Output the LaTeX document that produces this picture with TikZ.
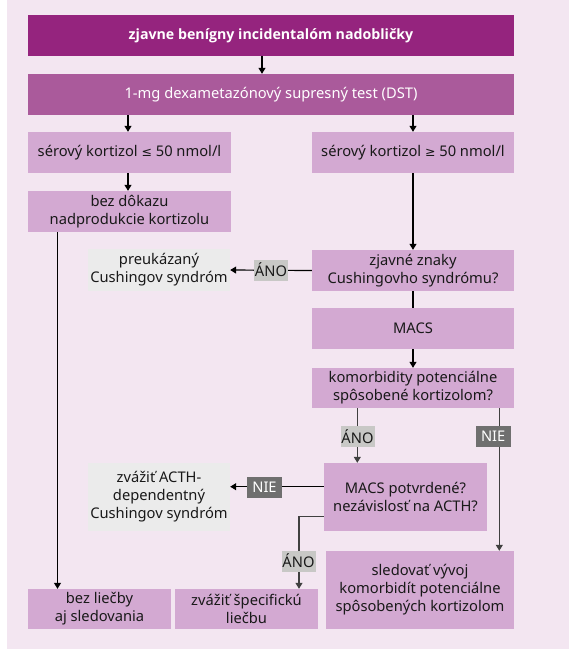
\documentclass[tikz,border=0pt]{standalone}
\usepackage{fontspec}
\setmainfont{Noto Sans}
\newfontfamily\boldfam{Open Sans}
\newfontfamily\symfont{DejaVu Sans}
\usetikzlibrary{arrows.meta}
\definecolor{bgpink}{HTML}{F3E6F1}
\definecolor{darkmag}{HTML}{95247E}
\definecolor{midmag}{HTML}{AA5A9B}
\definecolor{lightmag}{HTML}{D3A9D2}
\definecolor{grayfill}{HTML}{EBEBEB}
\definecolor{anofill}{HTML}{C8C8C6}
\definecolor{niefill}{HTML}{6F6F6F}
\definecolor{linegray}{HTML}{404040}
\tikzset{
  every node/.style={font=\fontsize{14.7}{18}\selectfont, inner sep=0pt, align=center},
  lbox/.style={fill=lightmag, text=black!90},
  gbox/.style={fill=grayfill, text=black!90},
  anolab/.style={fill=anofill, text=black!90, minimum width=34pt, minimum height=21pt},
  nielab/.style={fill=niefill, text=white, minimum width=35pt, minimum height=21pt},
  conn/.style={draw=black, line width=1.2pt},
  conng/.style={draw=linegray, line width=1.2pt},
  arr/.style={-{Triangle[length=6pt,width=7pt]}},
}
\begin{document}
\begin{tikzpicture}[x=1pt,y=-1pt]
\useasboundingbox (0,0) rectangle (569,649);
\fill[bgpink] (7,0) rectangle (569,649);
% boxes
\node[fill=darkmag, text=white, font=\boldfam\fontsize{14.2}{18}\selectfont\bfseries, minimum width=486pt, minimum height=41pt] (top) at (271,35.5) {zjavne benígny incidentalóm nadobličky};
\node[fill=midmag, text=white, minimum width=486pt, minimum height=41pt] (dst) at (271,94.5) {1-mg dexametazónový supresný test (DST)};
\node[lbox, minimum width=203pt, minimum height=41pt] (s1) at (129.5,152.5) {sérový kortizol {\symfont\fontsize{12.5}{18}\selectfont ≤} 50 nmol/l};
\node[lbox, minimum width=202pt, minimum height=41pt] (s2) at (413,152.5) {sérový kortizol {\symfont\fontsize{12.5}{18}\selectfont ≥} 50 nmol/l};
\node[lbox, minimum width=203pt, minimum height=41pt] (nodk) at (129.5,211.5) {bez dôkazu\\nadprodukcie kortizolu};
\node[lbox, minimum width=202pt, minimum height=41pt] (znaky) at (413,270.5) {zjavné znaky\\Cushingovho syndrómu?};
\node[gbox, minimum width=142pt, minimum height=42pt] (preuk) at (159,270) {preukázaný\\Cushingov syndróm};
\node[lbox, minimum width=202pt, minimum height=41pt] (macs) at (413,328.5) {MACS};
\node[lbox, minimum width=202pt, minimum height=40pt] (komorb) at (413,388) {komorbidity potenciálne\\spôsobené kortizolom?};
\node[lbox, minimum width=163pt, minimum height=68pt] (potv) at (405.5,497) {MACS potvrdené?\\nezávislosť na ACTH?};
\node[gbox, minimum width=142pt, minimum height=68pt] (acth) at (159,497) {zvážiť ACTH-\\dependentný\\Cushingov syndróm};
\node[lbox, minimum width=188pt, minimum height=78pt] (sled) at (420,590) {sledovať vývoj\\komorbidít potenciálne\\spôsobených kortizolom};
\node[lbox, minimum width=143pt, minimum height=40pt] (bezl) at (99.5,609) {bez liečby\\aj sledovania};
\node[lbox, minimum width=143pt, minimum height=40pt] (spec) at (246.5,609) {zvážiť špecifickú\\liečbu};
% connectors
\draw[conn, arr] (top.south -| 262,0) -- (dst.north -| 262,0);
\draw[conn, arr] (dst.south -| 128,0) -- (s1.north -| 128,0);
\draw[conn, arr] (dst.south -| 413,0) -- (s2.north);
\draw[conn, arr] (s1.south -| 128,0) -- (nodk.north -| 128,0);
\draw[conn, arr] (nodk.south -| 57.5,0) -- (bezl.north -| 57.5,0);
\draw[conn, arr] (s2.south) -- (znaky.north);
\draw[conn, arr] (znaky.west) -- (preuk.east);
\node[anolab] (l1) at (271,270) {ÁNO};
\draw[conn] (znaky.south) -- (macs.north);
\draw[conn, arr] (macs.south) -- (komorb.north);
\draw[conng, arr] (komorb.south -| 357.3,0) -- (potv.north -| 357.3,0);
\node[anolab] (l2) at (357.5,436.5) {ÁNO};
\draw[conng, arr] (komorb.south -| 499.3,0) -- (sled.north -| 499.3,0);
\node[nielab] (l3) at (493.2,436.5) {NIE};
\coordinate (pw) at (potv.west |- 0,486.7);
\draw[conn, arr] (pw) -- (acth.east |- pw);
\node[nielab] (l4) at (264.5,487) {NIE};
\coordinate (pw2) at (potv.west |- 0,516.7);
\coordinate (bend) at (299,516.7);
\draw[conng, arr] (pw2) -- (bend) -- (spec.north -| bend);
\node[anolab] (l5) at (298.5,561) {ÁNO};
\end{tikzpicture}
\end{document}
